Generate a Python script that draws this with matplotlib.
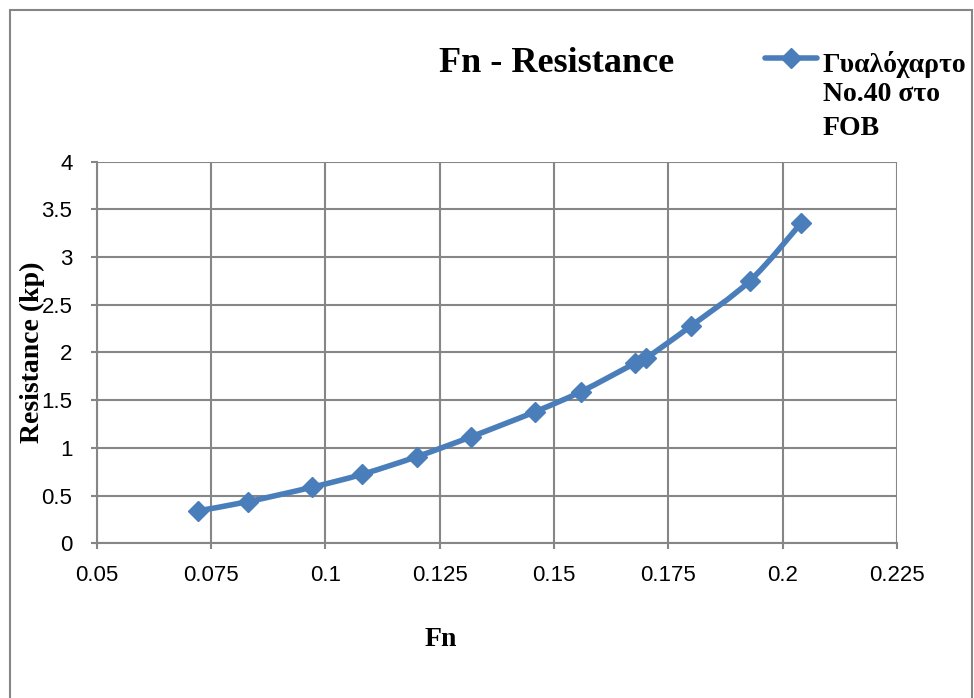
import numpy as np
import matplotlib
matplotlib.use("Agg")
import matplotlib.pyplot as plt
from matplotlib.path import Path
from matplotlib.patches import PathPatch, Rectangle
from matplotlib.lines import Line2D
from matplotlib.ticker import FuncFormatter

# ----- Data -----
fn = [0.0721, 0.0830, 0.0970, 0.1080, 0.1200, 0.1319, 0.1459,
      0.1559, 0.1677, 0.1701, 0.1800, 0.1928, 0.2041]
resistance = [0.34, 0.436, 0.587, 0.723, 0.908, 1.117, 1.38,
              1.59, 1.887, 1.94, 2.28, 2.75, 3.36]
series_label = ["Γυαλόχαρτο", "No.40 στο", "FOB"]
x_ticks = [0.05, 0.075, 0.1, 0.125, 0.15, 0.175, 0.2, 0.225]
y_ticks = [0, 0.5, 1, 1.5, 2, 2.5, 3, 3.5, 4]

# ----- Style -----
W, H = 974, 698
BLUE = "#4a7ebb"
GRID = "#868686"
SERIF = ["Liberation Serif", "DejaVu Serif"]
SANS = ["Liberation Sans", "DejaVu Sans"]


def fx(px):
    return px / W


def fy(py):
    return 1 - py / H


def smooth_path(ax, xs, ys):
    '''Cubic Bezier path through the points (Catmull-Rom style), built in display space.'''
    pts = ax.transData.transform(np.column_stack([xs, ys]))
    verts = [pts[0]]
    codes = [Path.MOVETO]
    n = len(pts)
    for i in range(n - 1):
        p0 = pts[i - 1] if i > 0 else pts[i]
        p1, p2 = pts[i], pts[i + 1]
        p3 = pts[i + 2] if i + 2 < n else pts[i + 1]
        c1 = p1 + (p2 - p0) / 6.0
        c2 = p2 - (p3 - p1) / 6.0
        verts += [c1, c2, p2]
        codes += [Path.CURVE4] * 3
    verts = ax.transData.inverted().transform(np.array(verts))
    return Path(verts, codes)


fig = plt.figure(figsize=(W / 100, H / 100), dpi=100)
ax = fig.add_axes([fx(96.7), fy(543.3), (897 - 96.7) / W, (543.3 - 161.7) / H])

ax.set_xlim(0.05, 0.225)
ax.set_ylim(0, 4)
ax.set_xticks(x_ticks)
ax.set_yticks(y_ticks)
fmt = FuncFormatter(lambda v, _: f"{v:g}")
ax.xaxis.set_major_formatter(fmt)
ax.yaxis.set_major_formatter(fmt)
ax.grid(True, color=GRID, linewidth=1.5)
ax.set_axisbelow(True)
for side in ["top", "right"]:
    ax.spines[side].set_visible(False)
for side in ["left", "bottom"]:
    ax.spines[side].set_color(GRID)
    ax.spines[side].set_linewidth(1.5)
ax.tick_params(axis="both", direction="out", length=4.5, width=1.5,
               color=GRID, labelsize=16)
ax.tick_params(axis="y", pad=13)
ax.tick_params(axis="x", pad=11)
for lab in ax.get_xticklabels() + ax.get_yticklabels():
    lab.set_family(SANS)

# smoothed series line with diamond markers on the data points
ax.add_patch(PathPatch(smooth_path(ax, fn, resistance), fill=False,
                       edgecolor=BLUE, linewidth=4, capstyle="round",
                       joinstyle="round", zorder=3))
ax.plot(fn, resistance, linestyle="none", marker="D", markersize=10,
        color=BLUE, zorder=4)

# titles
fig.text(fx(557), fy(72.3), "Fn - Resistance", ha="center", va="baseline",
         fontsize=26, fontweight="bold", family=SERIF)
fig.text(fx(441), fy(640), "Fn", ha="center", va="center",
         fontsize=20, fontweight="bold", family=SERIF)
fig.text(fx(32), fy(352), "Resistance (kp)", ha="center", va="center",
         rotation=90, fontsize=20, fontweight="bold", family=SERIF)

# legend entry
fig.add_artist(Line2D([fx(765), fx(791), fx(817)], [fy(58)] * 3,
                      color=BLUE, linewidth=4, marker="D", markersize=10,
                      markevery=[1], solid_capstyle="round"))
for line, base in zip(series_label, [71.7, 101, 135]):
    fig.text(fx(822.7), fy(base), line, ha="left", va="baseline",
             fontsize=20, fontweight="bold", family=SERIF)

# outer chart frame
fig.add_artist(Rectangle((fx(9.5), -0.05), fx(972) - fx(9.5), fy(9.5) + 0.05,
                         fill=False, edgecolor=GRID, linewidth=1.5,
                         transform=fig.transFigure))

fig.savefig("out.png", dpi=100)
